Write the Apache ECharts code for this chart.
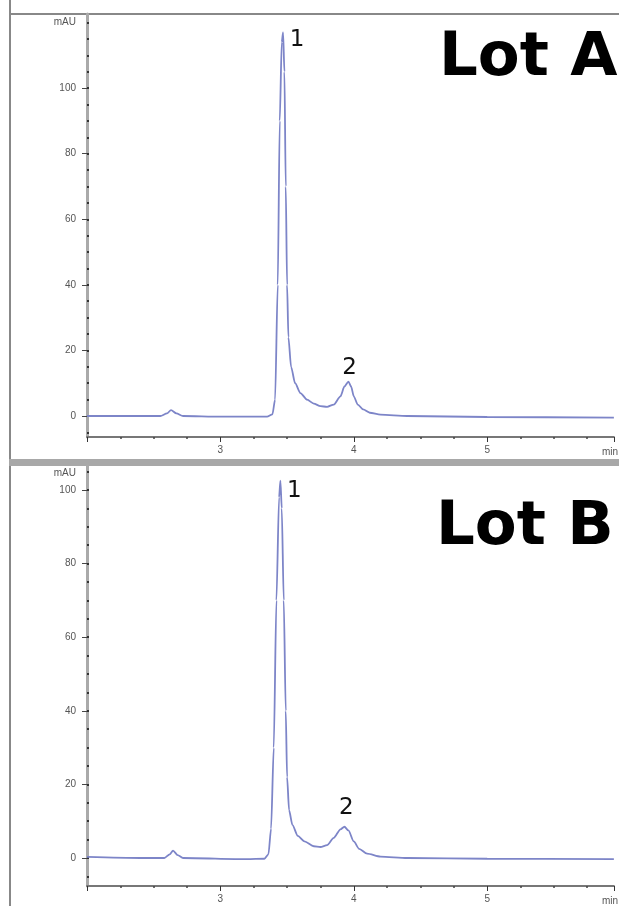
<!DOCTYPE html>
<html>
<head>
<meta charset="utf-8">
<script src="https://cdn.jsdelivr.net/npm/echarts@6/dist/echarts.min.js"></script>
<style>
html,body{margin:0;padding:0;background:#fff;}
#c{width:619px;height:906px;}
</style>
</head>
<body>
<div id="c"></div>
<script>
// ---- data ----
const panelTitles = ["Lot A", "Lot B"];
const peakNames = ["1", "2"];
const xTickLabels = [3, 4, 5];
const xUnit = "min";
const yUnit = "mAU";
const yTicksA = [0, 20, 40, 60, 80, 100];
const yTicksB = [0, 20, 40, 60, 80, 100];

const timeA = [2.0, 2.3, 2.55, 2.6, 2.63, 2.67, 2.72, 3.0, 3.35, 3.39, 3.41, 3.43, 3.445, 3.46, 3.47, 3.48, 3.49, 3.5, 3.51, 3.53, 3.56, 3.6, 3.65, 3.7, 3.75, 3.8, 3.85, 3.9, 3.93, 3.96, 3.98, 4.0, 4.03, 4.07, 4.12, 4.2, 4.4, 5.0, 5.95];
const valueA = [0, 0, 0, 0.8, 1.8, 0.8, 0, -0.2, -0.2, 0.5, 5, 40, 90, 114, 117, 105, 70, 40, 24, 15, 10, 7, 5, 3.8, 3, 2.8, 3.5, 6, 9, 10.5, 9, 6, 3.5, 2, 1, 0.4, 0, -0.3, -0.5];
const peaksA = [[3.47, 117], [3.96, 10.5]];

const timeB = [2.0, 2.4, 2.58, 2.62, 2.645, 2.68, 2.72, 3.2, 3.33, 3.36, 3.38, 3.4, 3.42, 3.44, 3.45, 3.46, 3.475, 3.49, 3.5, 3.515, 3.54, 3.58, 3.63, 3.7, 3.75, 3.8, 3.85, 3.9, 3.93, 3.96, 4.0, 4.04, 4.1, 4.2, 4.4, 5.0, 5.95];
const valueB = [0.3, 0, 0, 1, 2, 0.8, 0, -0.3, -0.2, 1, 8, 30, 70, 98, 102.5, 95, 70, 40, 22, 13, 9, 6, 4.5, 3.2, 3, 3.5, 5.5, 7.8, 8.5, 7.5, 4.5, 2.5, 1.2, 0.4, 0, -0.2, -0.3];
const peaksB = [[3.45, 102.5], [3.93, 8.5]];

// ---- chart ----
const chart = echarts.init(document.getElementById('c'));
const lineColor = '#7d85c8';
const labelColor = '#555';

function zip(t, v) { return t.map((x, i) => [x, v[i]]); }
function minorY(min, max) { const a = []; for (let v = Math.ceil(min / 5) * 5; v <= max; v += 5) a.push(v); return a; }

const panels = [
  { top: 14, height: 423, ymin: -6.4, ymax: 122.6, ticks: yTicksA, unitAt: 120, data: zip(timeA, valueA), peaks: peaksA, offs: [[14, 8], [1, -14]] },
  { top: 466, height: 421, ymin: -7.6, ymax: 106.5, ticks: yTicksB, unitAt: 104.6, data: zip(timeB, valueB), peaks: peaksB, offs: [[14, 10], [2, -19]] }
];

const grid = [], xAxis = [], yAxis = [], series = [];
panels.forEach((p, i) => {
  grid.push({ left: 87, top: p.top, width: 533, height: p.height });
  xAxis.push({
    type: 'value', gridIndex: i, min: 2, max: 5.95, interval: 1,
    axisLine: { show: true, onZero: false, lineStyle: { color: '#777', width: 2 } },
    axisTick: { show: true, length: 5, lineStyle: { color: '#333', width: 1 } },
    minorTick: { show: true, splitNumber: 4, length: 2, lineStyle: { color: '#444', width: 1.5 } },
    splitLine: { show: false },
    axisLabel: {
      color: labelColor, fontSize: 10, margin: 8, showMinLabel: false, showMaxLabel: false,
      formatter: v => (xTickLabels.indexOf(v) >= 0 ? String(v) : '')
    },
    name: xUnit, nameLocation: 'end', nameGap: -12,
    nameTextStyle: { color: labelColor, fontSize: 10, verticalAlign: 'top', padding: [10, 0, 0, 0] }
  });
  yAxis.push({
    type: 'value', gridIndex: i, min: p.ymin, max: p.ymax,
    axisLine: { show: true, lineStyle: { color: '#aaa', width: 3 } },
    axisTick: { show: true, length: 5, customValues: p.ticks, lineStyle: { color: '#444', width: 1 } },
    splitLine: { show: false },
    axisLabel: {
      color: labelColor, fontSize: 10, margin: 11,
      customValues: p.ticks.concat([p.unitAt]),
      formatter: v => (v === p.unitAt ? yUnit : String(v))
    }
  });
  yAxis.push({
    type: 'value', gridIndex: i, min: p.ymin, max: p.ymax, position: 'left',
    axisLine: { show: false },
    axisTick: { show: true, length: 2, inside: true, customValues: minorY(p.ymin, p.ymax), lineStyle: { color: '#333', width: 2 } },
    splitLine: { show: false },
    axisLabel: { show: false }
  });
  series.push({
    type: 'line', xAxisIndex: i, yAxisIndex: i * 2, data: p.data,
    symbol: 'none', smooth: 0.25, smoothMonotone: 'x',
    lineStyle: { color: lineColor, width: 1.8 },
    markPoint: {
      symbol: 'circle', symbolSize: 0, silent: true,
      data: p.peaks.map((c, k) => ({
        coord: c, value: peakNames[k],
        label: { show: true, formatter: peakNames[k], offset: p.offs[k], color: '#111', fontSize: 23, fontFamily: 'DejaVu Sans' }
      }))
    }
  });
});

chart.setOption({
  backgroundColor: '#fff',
  animation: false,
  title: [
    { text: panelTitles[0], left: 434, top: 24, textStyle: { fontSize: 61, fontWeight: 'bold', fontFamily: 'DejaVu Sans', color: '#000' } },
    { text: panelTitles[1], left: 431, top: 493, textStyle: { fontSize: 61, fontWeight: 'bold', fontFamily: 'DejaVu Sans', color: '#000' } }
  ],
  grid, xAxis, yAxis, series,
  graphic: [
    { type: 'rect', shape: { x: 9, y: 0, width: 2, height: 906 }, style: { fill: '#888' }, silent: true },
    { type: 'rect', shape: { x: 9, y: 13, width: 610, height: 2 }, style: { fill: '#888' }, silent: true },
    { type: 'rect', shape: { x: 9, y: 459, width: 610, height: 7 }, style: { fill: '#a8a8a8' }, silent: true }
  ]
});
</script>
</body>
</html>
